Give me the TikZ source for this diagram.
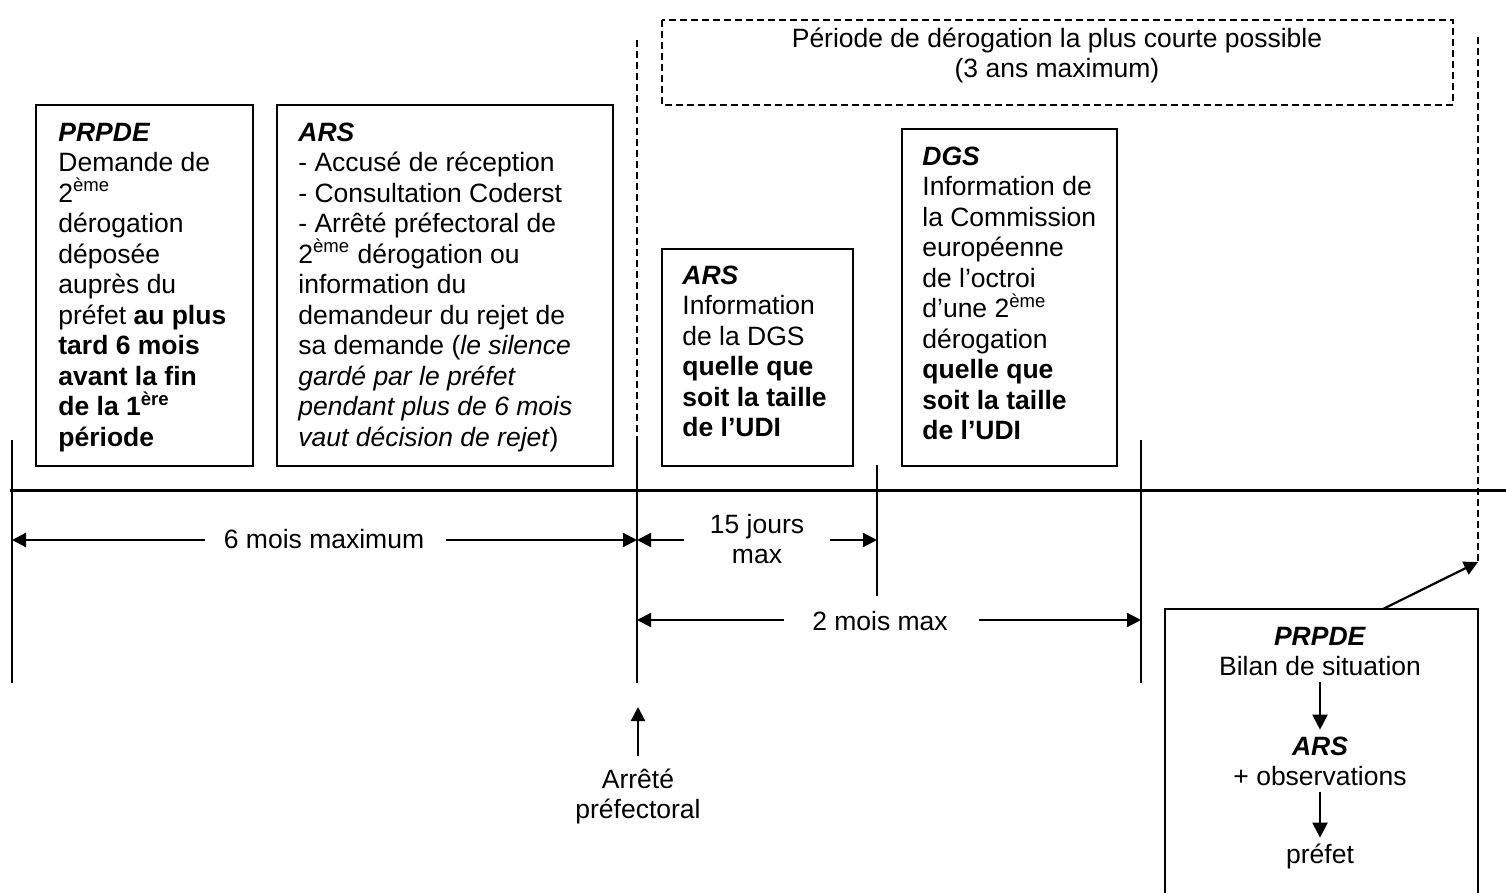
\documentclass[tikz,border=0pt]{standalone}
\usepackage{fontspec}
\setmainfont{Liberation Sans}
\usetikzlibrary{arrows.meta}
\newcommand\bodyfont{\fontsize{13.25pt}{15.25pt}\selectfont\lineskiplimit=-20pt\relax}
\begin{document}
\begin{tikzpicture}[x=0.5pt,y=-0.5pt,
  every node/.style={inner sep=0pt, font=\bodyfont},
  boxframe/.style={draw, line width=1pt},
  tline/.style={line width=0.75pt},
  dline/.style={line width=0.8pt, dash pattern=on 3.5pt off 2pt},
  mainline/.style={line width=1.5pt},
  arr/.style={line width=1.1pt, -{Triangle[length=7pt,width=7pt]}},
  txt/.style={align=left, anchor=north west},
  ctxt/.style={align=center, anchor=north}]
\useasboundingbox (0,0) rectangle (1506,893);

% dashed period box
\draw[dline] (662,20) rectangle (1453,105);
\node[ctxt] (per) at (1057,25.65) {\strut P\'eriode de d\'erogation la plus courte possible\\(3 ans maximum)};

% timeline verticals
\coordinate (t0top) at (12,440); \coordinate (t0bot) at (12,683);
\coordinate (t1dash) at (637,40); \coordinate (t1top) at (637,440); \coordinate (t1bot) at (637,683);
\coordinate (t2top) at (877,465); \coordinate (t2bot) at (877,596);
\coordinate (t3top) at (1141,440); \coordinate (t3bot) at (1141,683);
\coordinate (t4top) at (1478,37); \coordinate (t4bot) at (1478,562);
\draw[tline] (t0top) -- (t0bot);
\draw[dline] (t1dash) -- (t1top);
\draw[tline] (t1top) -- (t1bot);
\draw[tline] (t2top) -- (t2bot);
\draw[tline] (t3top) -- (t3bot);
\draw[dline] (t4top) -- (t4bot);
\coordinate (mainL) at (10,490); \coordinate (mainR) at (1506,490);
\draw[mainline] (mainL) -- (mainR);

% top boxes
\draw[boxframe] (36,105) rectangle (253,466);
\node[txt] (b1) at (58,119.65) {\strut\textbf{\textit{PRPDE}}\\
Demande de\\
2\textsuperscript{ème}\\
dérogation\\
déposée\\
auprès du\\
préfet \textbf{au plus}\\
\textbf{tard 6 mois}\\
\textbf{avant la fin}\\
\textbf{de la 1\textsuperscript{ère}}\\
\textbf{période}};

\draw[boxframe] (277,105) rectangle (613,466);
\node[txt] (b2) at (298,119.65) {\strut\textbf{\textit{ARS}}\\
- Accusé de réception\\
- Consultation Coderst\\
- Arrêté préfectoral de\\
2\textsuperscript{ème} dérogation ou\\
information du\\
demandeur du rejet de\\
sa demande (\textit{le silence}\\
\textit{gardé par le préfet}\\
\textit{pendant plus de 6 mois}\\
\textit{vaut décision de rejet})};

\draw[boxframe] (662,249) rectangle (853,466);
\node[txt] (b3) at (682,262.65) {\strut\textbf{\textit{ARS}}\\
Information\\
de la DGS\\
\textbf{quelle que}\\
\textbf{soit la taille}\\
\textbf{de l’UDI}};

\draw[boxframe] (902,129) rectangle (1117,466);
\node[txt] (b4) at (922,143.65) {\strut\textbf{\textit{DGS}}\\
Information de\\
la Commission\\
européenne\\
de l’octroi\\
d’une 2\textsuperscript{ème}\\
dérogation\\
\textbf{quelle que}\\
\textbf{soit la taille}\\
\textbf{de l’UDI}};

% dimension arrows
\node[anchor=base] (m6) at (324,548) {6 mois maximum};
\coordinate (m6l) at (205,540); \coordinate (m6r) at (446,540);
\coordinate (m6a) at (12,540); \coordinate (m6b) at (637,540);
\draw[arr] (m6l) -- (m6a);
\draw[arr] (m6r) -- (m6b);

\node[ctxt] (j15) at (757,511.65) {\strut 15 jours\\max};
\coordinate (j15l) at (684,540); \coordinate (j15r) at (830,540);
\coordinate (j15a) at (637,540); \coordinate (j15b) at (877,540);
\draw[arr] (j15l) -- (j15a);
\draw[arr] (j15r) -- (j15b);

\node[anchor=base] (m2) at (880,630) {2 mois max};
\coordinate (m2l) at (784,620); \coordinate (m2r) at (979,620);
\coordinate (m2a) at (637,620); \coordinate (m2b) at (1141,620);
\draw[arr] (m2l) -- (m2a);
\draw[arr] (m2r) -- (m2b);

% arrete prefectoral
\node[ctxt] (apf) at (638,766.65) {\strut Arrêté\\préfectoral};
\coordinate (apftip) at (638,707);
\draw[arr, shorten <=5.5pt] (apf.north) -- (apftip);

% bottom box
\draw[boxframe] (1165,609) rectangle (1478,905);
\node[ctxt] (p1) at (1320,623.65) {\strut\textbf{\textit{PRPDE}}\\Bilan de situation};
\node[ctxt] (p2) at (1320,733.65) {\strut\textbf{\textit{ARS}}\\+ observations};
\node[ctxt] (p3) at (1320,841.65) {\strut préfet};
\draw[arr, -{Triangle[length=7.5pt,width=7.5pt]}, shorten <=2.5pt, shorten >=2pt] (p1.south) -- (p2.north);
\draw[arr, -{Triangle[length=7.5pt,width=7.5pt]}, shorten <=2.5pt, shorten >=2pt] (p2.south) -- (p3.north);
\coordinate (b5top) at (1383,609);
\draw[arr] (b5top) -- (t4bot);
\end{tikzpicture}
\end{document}
